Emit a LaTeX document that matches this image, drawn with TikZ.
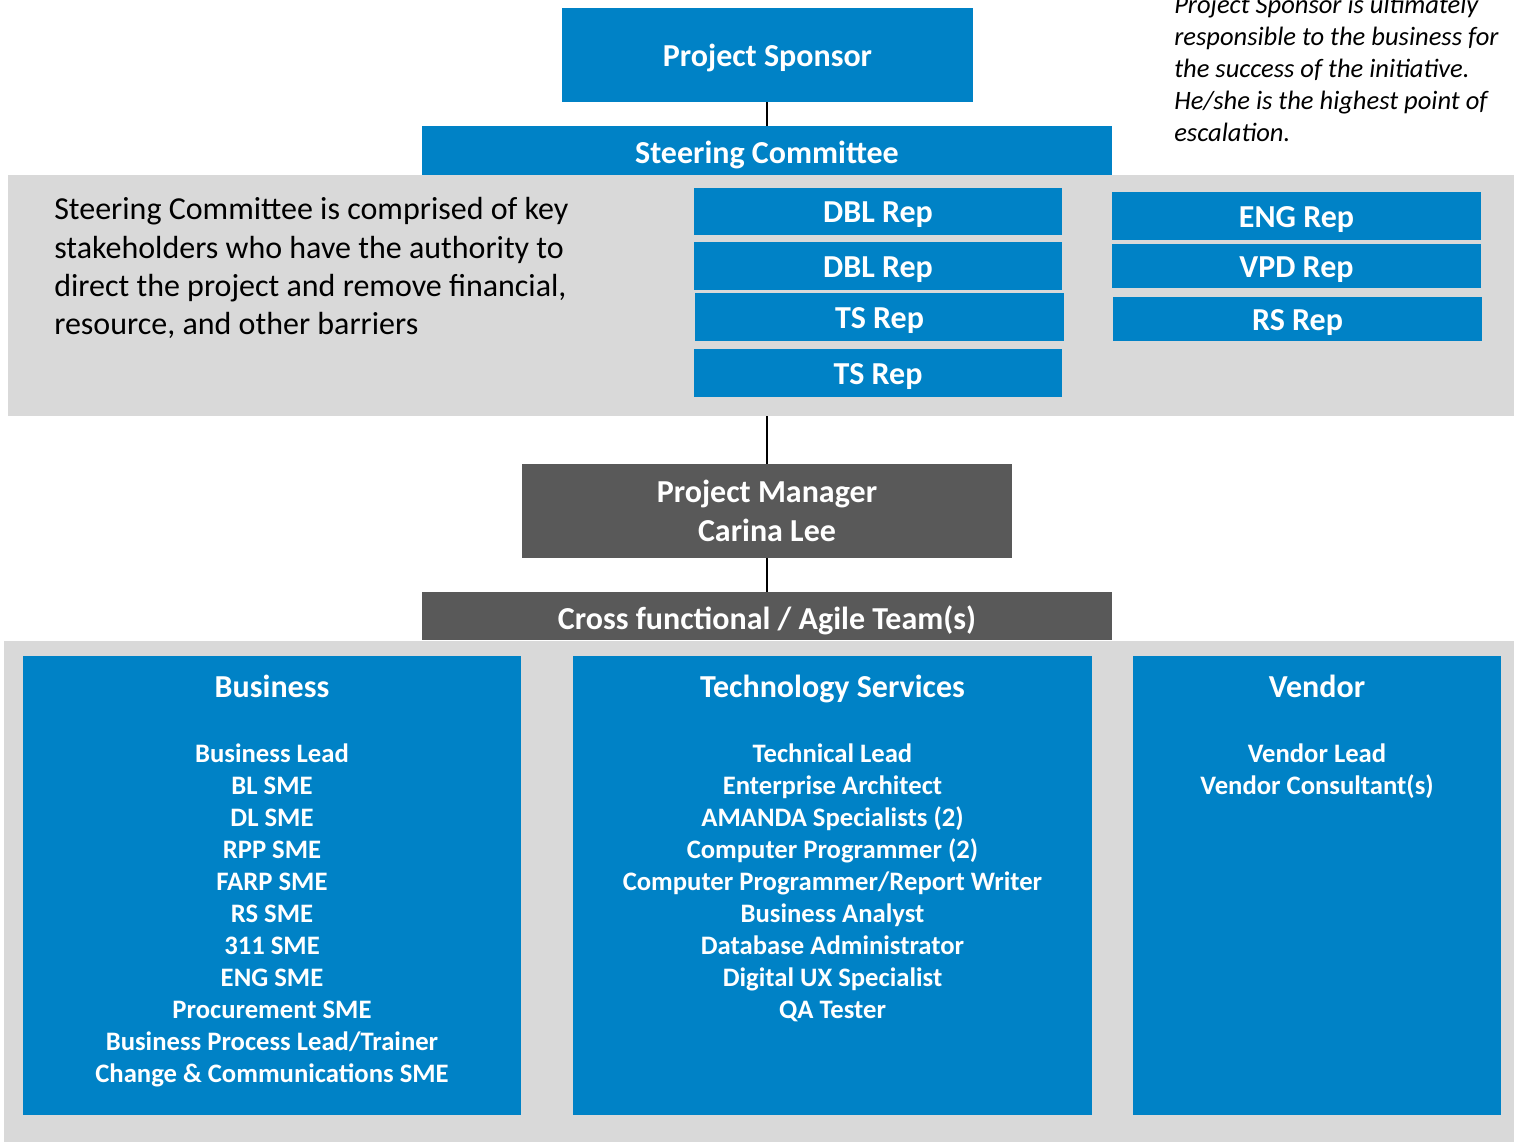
\documentclass[tikz,border=0pt]{standalone}
\usepackage{fontspec}
\setmainfont{Carlito}
\usetikzlibrary{positioning}

\definecolor{orgblue}{RGB}{0,130,198}
\definecolor{orgdark}{RGB}{89,89,89}
\definecolor{orggrey}{RGB}{217,217,217}
\newcommand{\pxs}{0.75pt}

\begin{document}
\begin{tikzpicture}[
		x=0.75pt, y=-0.75pt,
		basebox/.style={
		% The shape:
		rectangle,
		inner sep=0pt,
		% Font
		text=white,
		font=\fontsize{24pt}{29.25pt}\bfseries\selectfont
		},
		bluebox/.style={
		basebox,
		% The filling:
		fill=orgblue,
		% same baseline for every label
		text height=23pt,
		text depth=6pt
		},
		barbox/.style={
		bluebox,
		% label sits a bit low in the bars
		text height=26pt
		},
		darkbox/.style={
		barbox,
		fill=orgdark
		},
		pmbox/.style={
		basebox,
		fill=orgdark,
		align=center
		},
		panel/.style={
		rectangle,
		inner sep=0pt,
		fill=orggrey
		},
		listtext/.style={
		text=white,
		align=center,
		inner sep=0pt,
		font=\fontsize{20pt}{24pt}\bfseries\selectfont
		},
		link/.style={
		draw=black,
		line width=1.5pt
		}
	]
	\useasboundingbox (0,0) rectangle (1514,1142);

	% grey panels behind the boxes
	\node (SCP)[panel, minimum width=1506*\pxs, minimum height=241*\pxs] at (761,295.5) {};
	\node (TMP)[panel, minimum width=1510*\pxs, minimum height=501*\pxs] at (759,891.5) {};

	% sponsor and steering committee
	\node (PS)[bluebox, minimum width=411*\pxs, minimum height=94*\pxs] at (767.5,55) {Project Sponsor};
	\node (SC)[barbox, minimum width=690*\pxs, minimum height=49*\pxs] at (767,150.5) {Steering Committee};

	\node (PSNOTE)[anchor=north west, align=left, inner sep=0pt,
		font=\fontsize{19.9pt}{24pt}\itshape\selectfont] at (1174,-5) {Project Sponsor is ultimately\\
		responsible to the business for\\
		the success of the initiative.\\
		He/she is the highest point of\\
		escalation.};

	\node (SCNOTE)[anchor=north west, align=left, inner sep=0pt,
		font=\fontsize{24pt}{28.75pt}\selectfont] at (54,197.5) {Steering Committee is comprised of key\\
		stakeholders who have the authority to\\
		direct the project and remove financial,\\
		resource, and other barriers};

	% representatives
	\node (DBLA)[bluebox, minimum width=368*\pxs, minimum height=47*\pxs] at (878,211) {DBL Rep};
	\node (DBLB)[bluebox, minimum width=368*\pxs, minimum height=48*\pxs] at (878,266) {DBL Rep};
	\node (TSA)[bluebox, minimum width=369*\pxs, minimum height=48*\pxs] at (879.5,317) {TS Rep};
	\node (TSB)[bluebox, minimum width=368*\pxs, minimum height=48*\pxs] at (878,373) {TS Rep};
	\node (ENG)[bluebox, minimum width=369*\pxs, minimum height=48*\pxs] at (1296.5,216) {ENG Rep};
	\node (VPD)[bluebox, minimum width=369*\pxs, minimum height=44*\pxs] at (1296.5,266) {VPD Rep};
	\node (RS)[bluebox, minimum width=369*\pxs, minimum height=44*\pxs] at (1297.5,319) {RS Rep};

	% project manager and team
	\node (PM)[pmbox, minimum width=490*\pxs, minimum height=94*\pxs] at (767,511) {Project Manager\\Carina Lee};
	\node (XF)[darkbox, minimum width=690*\pxs, minimum height=48*\pxs] at (767,616) {Cross functional / Agile Team(s)};

	\node (BIZ)[bluebox, minimum width=498*\pxs, minimum height=459*\pxs] at (272,885.5) {};
	\node (TECH)[bluebox, minimum width=519*\pxs, minimum height=459*\pxs] at (832.5,885.5) {};
	\node (VEN)[bluebox, minimum width=368*\pxs, minimum height=459*\pxs] at (1317,885.5) {};

	\node (BIZH)[bluebox, fill=none] at (272,686) {Business};
	\node (TECHH)[bluebox, fill=none] at (832.5,686) {Technology Services};
	\node (VENH)[bluebox, fill=none] at (1317,686) {Vendor};

	\node (BIZL)[listtext, anchor=north] at (272,743.5) {Business Lead\\BL SME\\DL SME\\RPP SME\\FARP SME\\RS SME\\311 SME\\ENG SME\\Procurement SME\\Business Process Lead/Trainer\\Change \& Communications SME};
	\node (TECHL)[listtext, anchor=north] at (832.5,743.5) {Technical Lead\\Enterprise Architect\\AMANDA Specialists (2)\\Computer Programmer (2)\\Computer Programmer/Report Writer\\Business Analyst\\Database Administrator\\Digital UX Specialist\\QA Tester};
	\node (VENL)[listtext, anchor=north] at (1317,743.5) {Vendor Lead\\Vendor Consultant(s)};

	% connectors
	\draw [link] (PS.south -| SC.north) -- (SC.north);
	\draw [link] (PM.north |- SCP.south) -- (PM.north);
	\draw [link] (PM.south) -- (XF.north);
\end{tikzpicture}
\end{document}
